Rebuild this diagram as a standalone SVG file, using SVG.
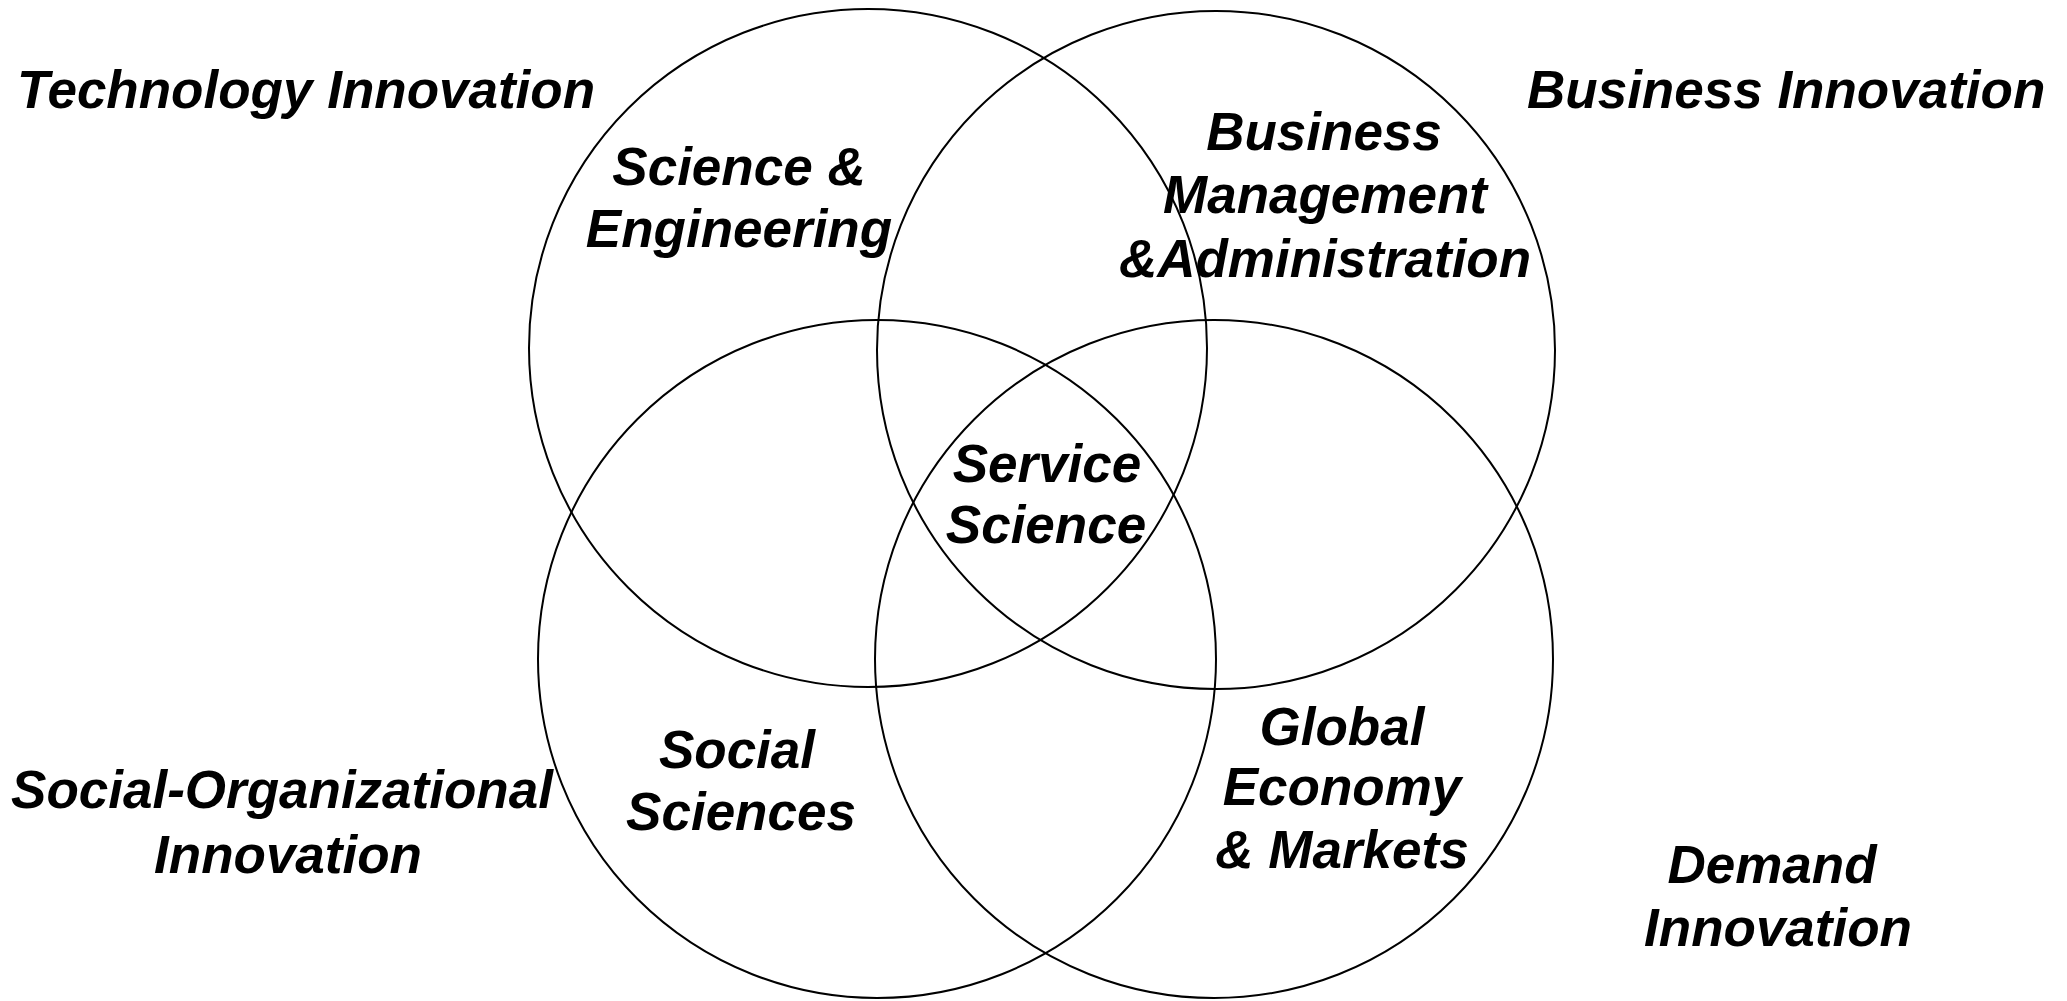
<svg xmlns="http://www.w3.org/2000/svg" width="2067" height="1001" viewBox="0 0 2067 1001">
<style>
.c{fill:none;stroke:#000;stroke-width:2}
.t{font-family:"Liberation Sans",Arial,sans-serif;font-weight:bold;font-style:italic;font-size:53px;fill:#000;text-anchor:middle}
.s{text-anchor:start}
</style>
<rect width="2067" height="1001" fill="#fff"/>
<g id="circles">
<circle id="circle-tl" class="c" cx="868" cy="348" r="339"/>
<circle id="circle-tr" class="c" cx="1216" cy="350" r="339"/>
<circle id="circle-bl" class="c" cx="877" cy="659" r="339"/>
<circle id="circle-br" class="c" cx="1214" cy="659" r="339"/>
</g>
<g id="connectors"></g>
<g id="technology-innovation"><text class="t s" x="17" y="108">Technology Innovation</text></g>
<g id="business-innovation"><text class="t s" x="1527" y="108">Business Innovation</text></g>
<g id="social-org-innovation"><text class="t" x="282" y="808">Social-Organizational</text><text class="t" x="288" y="873">Innovation</text></g>
<g id="demand-innovation"><text class="t" x="1772" y="883">Demand</text><text class="t" x="1778" y="946">Innovation</text></g>
<g id="science-engineering"><text class="t" x="739" y="185">Science &amp;</text><text class="t" x="739" y="247">Engineering</text></g>
<g id="business-management"><text class="t" x="1324" y="150">Business</text><text class="t" x="1325" y="213">Management</text><text class="t" x="1325" y="277">&amp;Administration</text></g>
<g id="service-science"><text class="t" x="1047" y="482">Service</text><text class="t" x="1046" y="543">Science</text></g>
<g id="social-sciences"><text class="t" x="737" y="768">Social</text><text class="t" x="741" y="830">Sciences</text></g>
<g id="global-economy"><text class="t" x="1342" y="745">Global</text><text class="t" x="1342" y="805">Economy</text><text class="t" x="1342" y="868">&amp; Markets</text></g>
</svg>
